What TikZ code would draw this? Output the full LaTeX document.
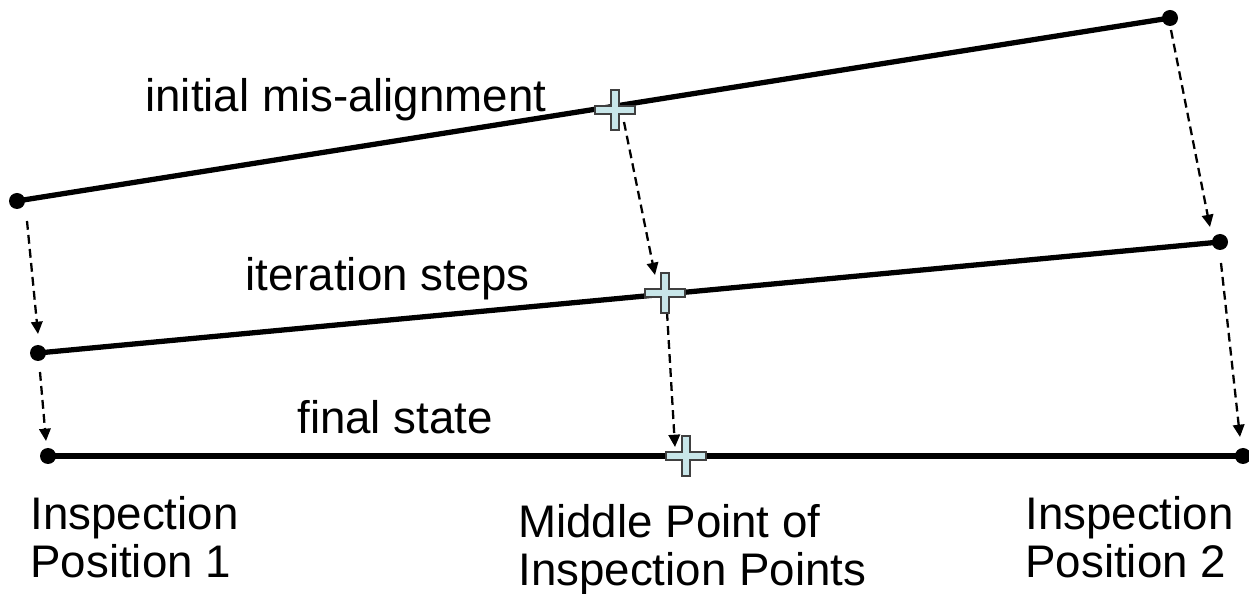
\documentclass[tikz,border=0pt]{standalone}
\usepackage{fontspec}
\setmainfont{Liberation Sans}
\usetikzlibrary{arrows.meta}
\definecolor{crossblue}{HTML}{C8E6E9}
\tikzset{
  mainline/.style={line width=3pt},
  dotmark/.style={circle, fill=black, inner sep=0pt, minimum size=0.32cm},
  mover/.style={line width=1.3pt, dash pattern=on 5pt off 3pt, -{Triangle[length=7pt,width=6.5pt]}},
  lbl/.style={font=\fontsize{26}{27.5}\selectfont, inner sep=0pt},
  crossmark/.pic={\draw[fill=crossblue, draw=black!75, line width=0.7pt]
     (-20,-4) -- (-4,-4) -- (-4,-20) -- (4,-20) -- (4,-4) -- (20,-4) -- (20,4) -- (4,4)
     -- (4,20) -- (-4,20) -- (-4,4) -- (-20,4) -- cycle;}
}
\begin{document}
\begin{tikzpicture}[x=0.02cm, y=-0.02cm]
\useasboundingbox (0,0) rectangle (1249,594);
% points
\coordinate (aL) at (17,201);
\coordinate (aR) at (1170,18);
\coordinate (aM) at (615,110);
\coordinate (bL) at (38,353);
\coordinate (bR) at (1220,242);
\coordinate (bM) at (665,293);
\coordinate (cL) at (48,456);
\coordinate (cR) at (1243,456);
\coordinate (cM) at (686,456);
% main lines
\draw[mainline] (aL) -- (aR);
\draw[mainline] (bL) -- (bR);
\draw[mainline] (cL) -- (cR);
\foreach \p in {aL,aR,bL,bR,cL,cR} \node[dotmark] at (\p) {};
% arrow coordinates
\coordinate (s1) at (27,221); \coordinate (t1) at (38,334);
\coordinate (s2) at (40,372); \coordinate (t2) at (46,441);
\coordinate (s3) at (624,122); \coordinate (t3) at (655,275);
\coordinate (s4) at (667,312); \coordinate (t4) at (675,447);
\coordinate (s5) at (1171,30); \coordinate (t5) at (1210,227);
\coordinate (s6) at (1221,263); \coordinate (t6) at (1240,437);
\draw[mover] (s1) -- (t1);
\draw[mover] (s2) -- (t2);
\draw[mover] (s3) -- (t3);
\draw[mover] (s4) -- (t4);
\draw[mover] (s5) -- (t5);
\draw[mover] (s6) -- (t6);
% crosses
\pic at (aM) {crossmark};
\pic at (bM) {crossmark};
\pic at (cM) {crossmark};
% labels
\node[lbl, anchor=base west] (l1) at (145,112) {initial mis-alignment};
\node[lbl, anchor=base west] (l2) at (245,291) {iteration steps};
\node[lbl, anchor=base west] (l3) at (297,434) {final state};
\node[lbl, anchor=north west, align=left] (p1) at (30,496) {Inspection\\Position 1};
\node[lbl, anchor=north west, align=left] (mp) at (518,504) {Middle Point of\\Inspection Points};
\node[lbl, anchor=north west, align=left] (p2) at (1025,496) {Inspection\\Position 2};
\end{tikzpicture}
\end{document}
